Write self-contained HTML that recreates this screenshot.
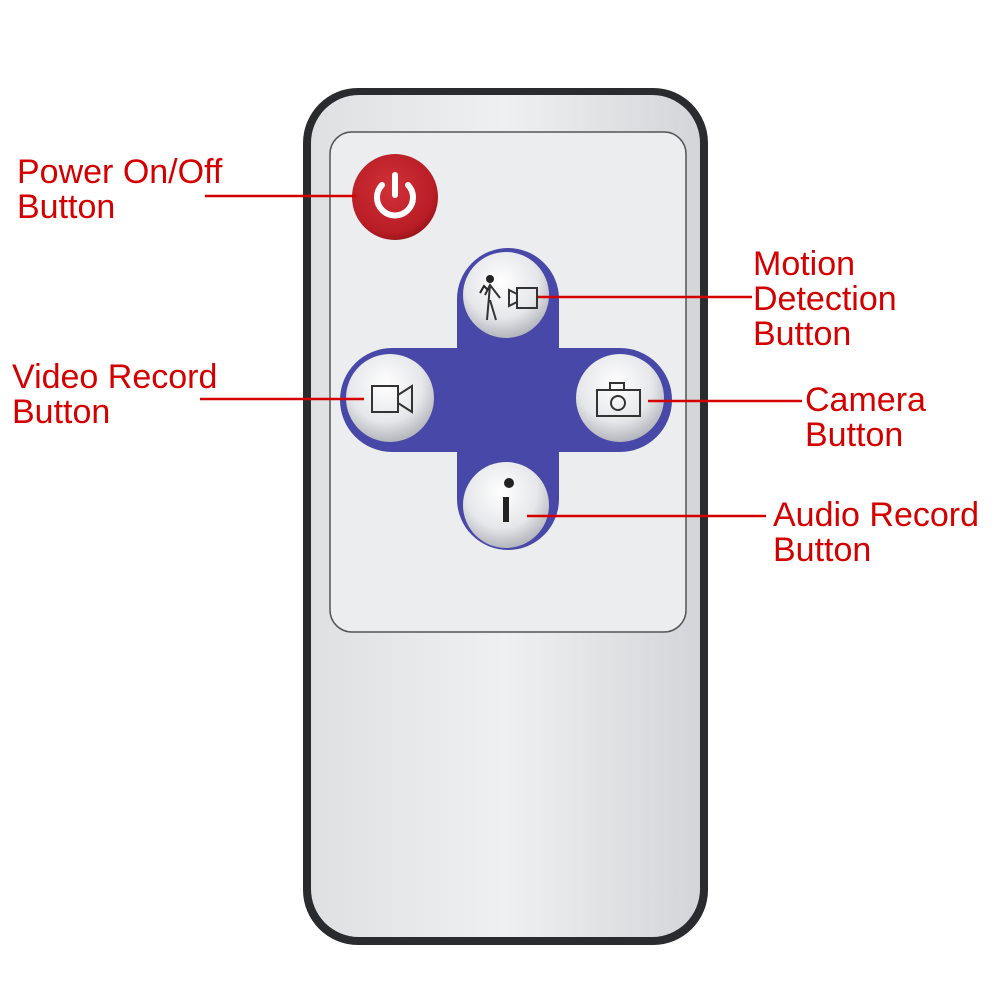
<!DOCTYPE html>
<html><head><style>
body{margin:0;width:1000px;height:1000px;background:#fff;position:relative;overflow:hidden;font-family:"Liberation Sans",sans-serif}
.t{position:absolute;color:#d40000;font-size:34px;line-height:35px}
</style></head><body>
<svg width="1000" height="1000" style="position:absolute;left:0;top:0">
<defs>
<linearGradient id="face" x1="0" x2="1" y1="0" y2="0"><stop offset="0" stop-color="#dfe0e2"/><stop offset="0.5" stop-color="#eff0f1"/><stop offset="1" stop-color="#d4d5d8"/></linearGradient>
<radialGradient id="btn" cx="0.45" cy="0.35" r="0.7"><stop offset="0" stop-color="#ffffff"/><stop offset="0.6" stop-color="#e6e7ea"/><stop offset="1" stop-color="#a9abb3"/></radialGradient>
<radialGradient id="red" cx="0.45" cy="0.4" r="0.65"><stop offset="0" stop-color="#d2323a"/><stop offset="0.8" stop-color="#b81c24"/><stop offset="1" stop-color="#8e1218"/></radialGradient>
</defs>
<rect x="303" y="88" width="405" height="857" rx="55" fill="#2a2b2e"/>
<rect x="311" y="95" width="389" height="842" rx="48" fill="url(#face)"/>
<rect x="330" y="132" width="356" height="500" rx="22" fill="#ecedef" stroke="#555" stroke-width="1.5"/>
<rect x="457" y="248" width="102" height="302" rx="51" fill="#4848a8"/>
<rect x="340" y="348" width="332" height="104" rx="52" fill="#4848a8"/>
<circle cx="395" cy="197" r="43" fill="url(#red)"/>
<path d="M382 185 A18 18 0 1 0 408 185" fill="none" stroke="#fff" stroke-width="6" stroke-linecap="round"/>
<line x1="395" y1="175" x2="395" y2="195" stroke="#fff" stroke-width="6" stroke-linecap="round"/>
<circle cx="506" cy="295" r="43" fill="url(#btn)"/>
<circle cx="390" cy="398" r="44" fill="url(#btn)"/>
<circle cx="620" cy="398" r="44" fill="url(#btn)"/>
<circle cx="506" cy="505" r="43" fill="url(#btn)"/>
<g stroke="#333" stroke-width="2" fill="none">
<rect x="372" y="386" width="26" height="26"/><path d="M398 395 L412 386 L412 412 L398 403"/>
<rect x="597" y="390" width="43" height="26"/><rect x="610" y="383" width="14" height="7"/><circle cx="618" cy="403" r="7"/>
<rect x="517" y="288" width="20" height="20"/><path d="M517 294 L509 290 L509 306 L517 302"/>
<path d="M485 295 L490 285 L500 298 M490 285 L487 320 M490 300 L496 320"/>
</g>
<circle cx="490" cy="279" r="4" fill="#222"/>
<path d="M480 293 L484 286 L488 290" stroke="#222" stroke-width="2" fill="none"/>
<circle cx="509" cy="483" r="5" fill="#222"/>
<rect x="503" y="497" width="6" height="25" fill="#222"/>
<g stroke="#d40000" stroke-width="2.5">
<line x1="205" y1="196" x2="356" y2="196"/>
<line x1="538" y1="297" x2="752" y2="297"/>
<line x1="200" y1="399" x2="364" y2="399"/>
<line x1="648" y1="401" x2="802" y2="401"/>
<line x1="527" y1="516" x2="766" y2="516"/>
</g>
</svg>
<div class="t" style="left:17px;top:155px">Power On/Off<br>Button</div>
<div class="t" style="left:753px;top:247px">Motion<br>Detection<br>Button</div>
<div class="t" style="left:12px;top:360px">Video Record<br>Button</div>
<div class="t" style="left:805px;top:383px">Camera<br>Button</div>
<div class="t" style="left:773px;top:498px">Audio Record<br>Button</div>
</body></html>
